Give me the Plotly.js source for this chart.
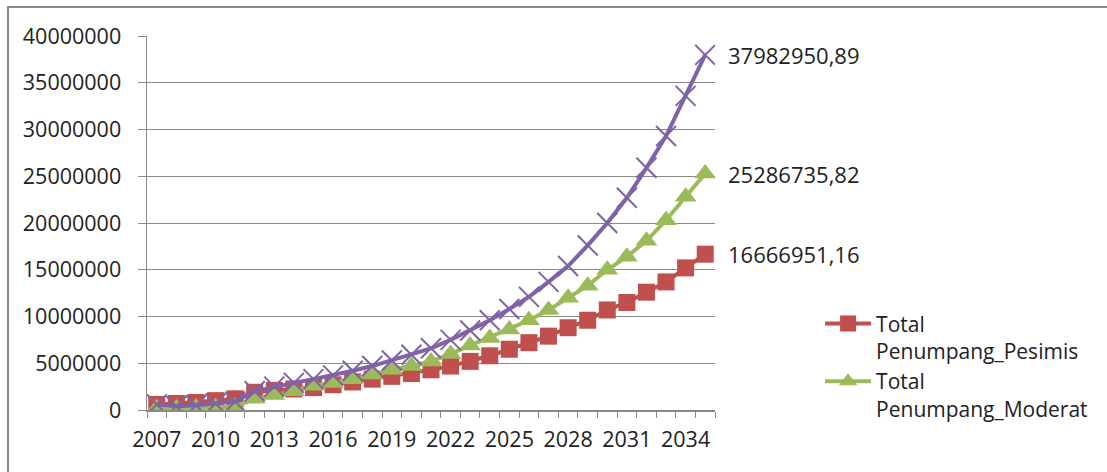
<!DOCTYPE html>
<html>
<head>
<meta charset="utf-8">
<script src="https://cdn.plot.ly/plotly-3.0.1.min.js"></script>
<style>
  html, body { margin: 0; padding: 0; background: #fff; }
  #frame { position: absolute; left: 7px; top: 6px; width: 1100px; height: 466px;
           border-left: 2px solid #8a8a8a; border-top: 2px solid #8a8a8a; box-sizing: border-box; }
  #chart { position: absolute; left: 0; top: 0; width: 1107px; height: 472px; }
</style>
</head>
<body>
<div id="frame"></div>
<div id="chart"></div>
<script>
const years = [2007,2008,2009,2010,2011,2012,2013,2014,2015,2016,2017,2018,2019,2020,2021,
               2022,2023,2024,2025,2026,2027,2028,2029,2030,2031,2032,2033,2034,2035];
const tickYears = [2007,2010,2013,2016,2019,2022,2025,2028,2031,2034];

const pesimis = [600000,700000,800000,1000000,1200000,1900000,2100000,2250000,2400000,2700000,
                 3000000,3300000,3600000,3900000,4300000,4700000,5200000,5800000,6500000,7200000,
                 7900000,8800000,9600000,10700000,11500000,12600000,13700000,15200000,16666951.16];
const moderat = [200000,200000,250000,300000,350000,1200000,1600000,2000000,2600000,2900000,
                 3300000,3800000,4300000,4700000,5200000,6000000,6900000,7700000,8600000,9600000,
                 10700000,12000000,13300000,15000000,16400000,18100000,20300000,22800000,25286735.82];
const optimis = [600000,400000,500000,700000,900000,2000000,2500000,2900000,3300000,3700000,
                 4200000,4700000,5300000,5900000,6600000,7500000,8500000,9600000,10800000,12100000,
                 13700000,15400000,17600000,20000000,22700000,25900000,29300000,33600000,37982950.89];

const names = ['Total<br>Penumpang_Pesimis', 'Total<br>Penumpang_Moderat', 'Total<br>Penumpang_Optimis'];
const endLabels = ['16666951,16', '25286735,82', '37982950,89'];

const FONT = 'Open Sans, sans-serif';
const seriesList = [pesimis, moderat, optimis];

const traces = [
  { x: years, y: pesimis, name: names[0], type: 'scatter', mode: 'lines+markers',
    line: { color: '#C0504D', width: 4 },
    marker: { symbol: 'square', size: 17, color: '#C0504D' } },
  { x: years, y: moderat, name: names[1], type: 'scatter', mode: 'lines+markers',
    line: { color: '#9BBB59', width: 4 },
    marker: { symbol: 'triangle-up', size: 19, color: '#9BBB59' } },
  { x: years, y: optimis, name: names[2], type: 'scatter', mode: 'lines+markers', showlegend: false,
    line: { color: '#7F62A8', width: 4 },
    marker: { symbol: 'x-thin-open', size: 20, color: '#7F62A8', line: { color: '#7F62A8', width: 2 } } }
];

const annotations = seriesList.map((s, i) => ({
  x: years[years.length - 1], y: s[s.length - 1], xref: 'x', yref: 'y',
  text: endLabels[i], showarrow: false, xanchor: 'left', yanchor: 'middle', xshift: 21,
  font: { family: FONT, size: 22, color: '#222' }
}));

const layout = {
  width: 1107, height: 472,
  margin: { l: 147, r: 392, t: 36, b: 62 },
  paper_bgcolor: 'rgba(0,0,0,0)', plot_bgcolor: 'rgba(0,0,0,0)',
  font: { family: FONT, size: 21, color: '#222' },
  showlegend: true,
  legend: { x: 1.185, xanchor: 'left', y: 0.285, yanchor: 'top', valign: 'top',
            font: { family: FONT, size: 21, color: '#222' }, tracegroupgap: 0,
            bgcolor: 'rgba(0,0,0,0)', itemwidth: 46 },
  xaxis: {
    range: [2006.5, 2035.5], tickmode: 'array', tickvals: tickYears, ticktext: tickYears.map(String),
    ticks: '', showgrid: false, showline: true, linecolor: '#8a8a8a', linewidth: 1.5,
    zeroline: false, ticklabelstandoff: 10,
    minor: { ticks: 'outside', ticklen: 6, tickcolor: '#8a8a8a', tickwidth: 1, dtick: 1, tick0: 2006.5, showgrid: false },
    tickfont: { family: FONT, size: 21.5, color: '#222' }
  },
  yaxis: {
    range: [0, 40000000], dtick: 5000000, tickformat: 'd', showgrid: true, gridcolor: '#8a8a8a', gridwidth: 1,
    showline: true, linecolor: '#8a8a8a', linewidth: 1.5, zeroline: false,
    ticks: 'outside', ticklen: 8, tickcolor: '#8a8a8a', ticklabelstandoff: 12,
    tickfont: { family: FONT, size: 21.5, color: '#222' }
  },
  annotations: annotations
};

Plotly.newPlot('chart', traces, layout, { displayModeBar: false, staticPlot: true });
</script>
</body>
</html>
